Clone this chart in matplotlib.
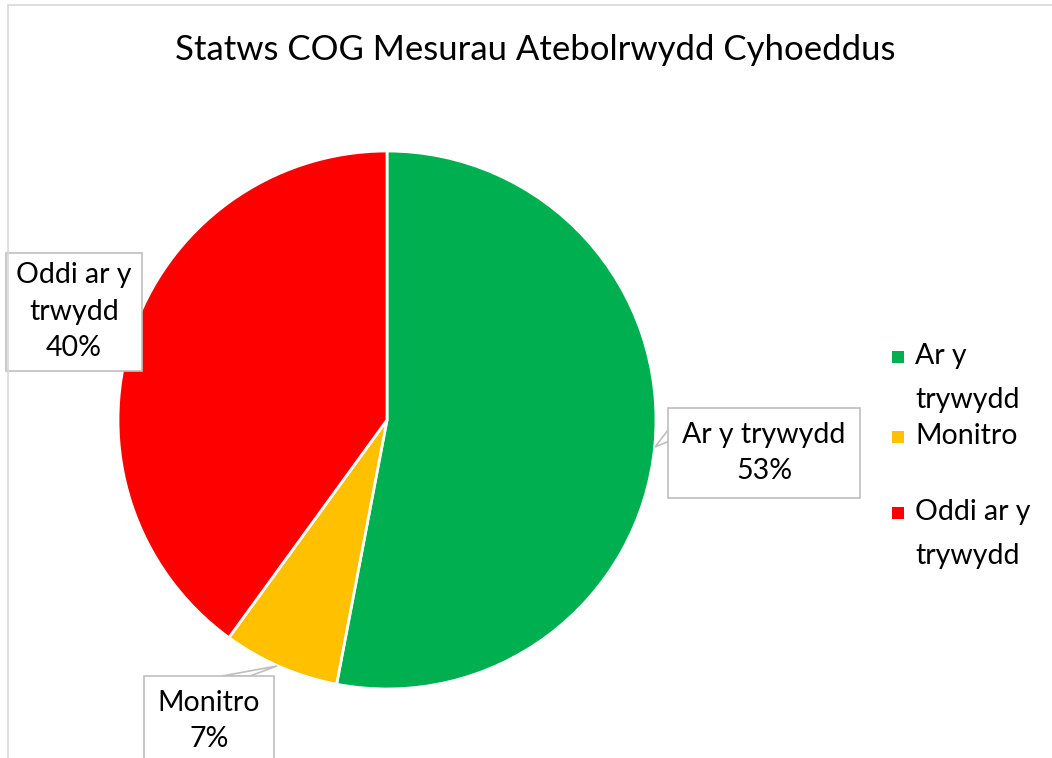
import matplotlib
matplotlib.use("Agg")
import matplotlib.pyplot as plt
from matplotlib.patches import Rectangle, Polygon

categories = ["Ar y trywydd", "Monitro", "Oddi ar y trywydd"]
values = [53, 7, 40]
colors = ["#00B050", "#FFC000", "#FF0000"]
label_texts = ["Ar y trywydd\n53%", "Monitro\n7%", "Oddi ar y\ntrwydd\n40%"]
legend_labels = ["Ar y\ntrywydd", "Monitro", "Oddi ar y\ntrywydd"]
title = "Statws COG Mesurau Atebolrwydd Cyhoeddus"

plt.rcParams['font.family'] = ['Lato', 'DejaVu Sans']
W, H = 1052, 758
fig = plt.figure(figsize=(W / 100, H / 100), dpi=100)

# chart border
fig.patches.append(Rectangle((8 / W, -0.2), 1.2, 1.2 - 5 / H, transform=fig.transFigure,
                             fill=False, ec="#d9d9d9", lw=1.2, clip_on=False))

cx, cy, r = 387, 420, 269
ax = fig.add_axes([(cx - r) / W, 1 - (cy + r) / H, 2 * r / W, 2 * r / H])

wedges, _ = ax.pie(values, colors=colors, startangle=90, counterclock=False, radius=1,
                   wedgeprops=dict(edgecolor="white", linewidth=2))
ax.set_xlim(-1, 1)
ax.set_ylim(-1, 1)
ax.set_aspect("equal")
ax.axis("off")


def px(x, y):
    return ((x - cx) / r, (cy - y) / r)


fig.text(0.5 * (178 + 893) / W, 1 - 50 / H, title, ha="center", va="center",
         fontsize=25, color="#000000")

# callout pointers (decoration, pixel layout)
pointers = [[(672, 425), (655, 447), (672, 440)],
            [(222, 676), (277, 666), (250, 676)]]
for pts in pointers:
    ax.add_patch(Polygon([px(*p) for p in pts], closed=True, fc="white", ec="#bfbfbf",
                         lw=1.2, zorder=2.5, clip_on=False))

# data labels
label_pos = [px(764, 453), px(209, 721), px(74, 312)]
pads = [0.5, 0.5, 0.35]
for i, t in enumerate(label_texts):
    ax.text(*label_pos[i], t, ha="center", va="center", fontsize=20.5, linespacing=1.5,
            zorder=3, clip_on=False,
            bbox=dict(boxstyle=f"square,pad={pads[i]}", fc="white", ec="#bfbfbf", lw=1.2))

# legend
leg_y = [361, 441, 517]
for i, lab in enumerate(legend_labels):
    y = leg_y[i]
    fig.patches.append(Rectangle((892 / W, 1 - (y + 2) / H), 12 / W, 12 / H,
                                 transform=fig.transFigure, fc=colors[i], ec="none"))
    fig.text(915 / W, 1 - (y - 18) / H, lab, ha="left", va="top", fontsize=20.5,
             linespacing=1.85)

fig.savefig("out.png", dpi=100, facecolor="white")
